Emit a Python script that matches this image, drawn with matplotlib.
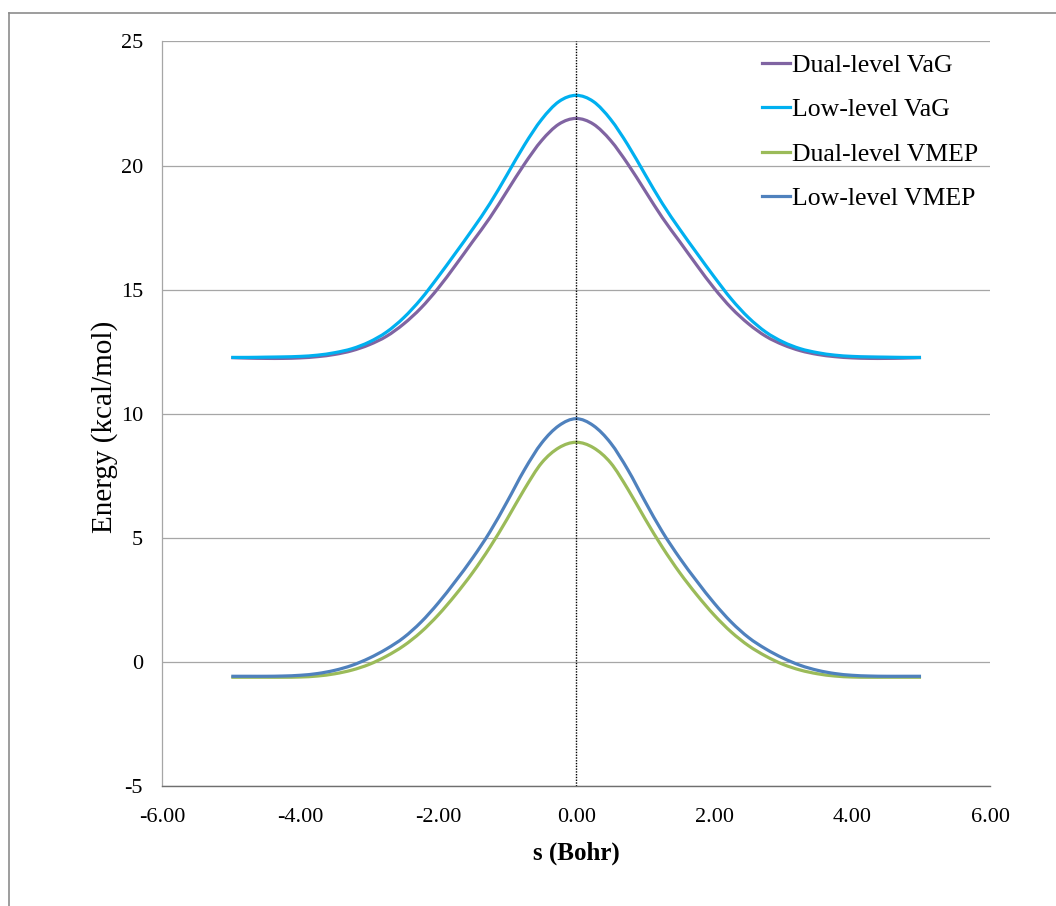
import matplotlib
matplotlib.use('Agg')
import matplotlib.pyplot as plt
import numpy as np
from matplotlib.lines import Line2D
from matplotlib.path import Path
from matplotlib.patches import PathPatch
from matplotlib.ticker import FormatStrFormatter, MultipleLocator

# reaction coordinate (Bohr)
s = [-5.0, -4.75, -4.5, -4.25, -4.0, -3.75, -3.5, -3.25, -3.0, -2.75, -2.5,
     -2.25, -2.0, -1.75, -1.5, -1.25, -1.0, -0.75, -0.5, -0.25, 0.0,
     0.25, 0.5, 0.75, 1.0, 1.25, 1.5, 1.75, 2.0, 2.25, 2.5,
     2.75, 3.0, 3.25, 3.5, 3.75, 4.0, 4.25, 4.5, 4.75, 5.0]

# energies (kcal/mol)
dual_vag = [12.26, 12.24, 12.23, 12.23, 12.25, 12.30, 12.39, 12.54, 12.78, 13.12, 13.62,
            14.26, 15.06, 15.98, 16.94, 17.90, 18.98, 20.06, 21.01, 21.67, 21.90,
            21.67, 21.01, 20.06, 18.98, 17.90, 16.94, 15.98, 15.06, 14.26, 13.62,
            13.12, 12.78, 12.54, 12.39, 12.30, 12.25, 12.23, 12.23, 12.24, 12.26]
low_vag = [12.27, 12.27, 12.28, 12.29, 12.31, 12.36, 12.46, 12.62, 12.89, 13.29, 13.87,
           14.62, 15.52, 16.47, 17.44, 18.47, 19.64, 20.83, 21.86, 22.58, 22.83,
           22.58, 21.86, 20.83, 19.64, 18.47, 17.44, 16.47, 15.52, 14.62, 13.87,
           13.29, 12.89, 12.62, 12.46, 12.36, 12.31, 12.29, 12.28, 12.27, 12.27]
dual_vmep = [-0.62, -0.62, -0.62, -0.62, -0.61, -0.57, -0.48, -0.33, -0.10, 0.23, 0.65,
             1.20, 1.89, 2.70, 3.60, 4.62, 5.76, 6.96, 8.02, 8.63, 8.85,
             8.63, 8.02, 6.96, 5.76, 4.62, 3.60, 2.70, 1.89, 1.20, 0.65,
             0.23, -0.10, -0.33, -0.48, -0.57, -0.61, -0.62, -0.62, -0.62, -0.62]
low_vmep = [-0.58, -0.58, -0.58, -0.57, -0.54, -0.47, -0.34, -0.14, 0.15, 0.52, 0.98,
            1.60, 2.37, 3.25, 4.19, 5.24, 6.46, 7.74, 8.82, 9.52, 9.80,
            9.52, 8.82, 7.74, 6.46, 5.24, 4.19, 3.25, 2.37, 1.60, 0.98,
            0.52, 0.15, -0.14, -0.34, -0.47, -0.54, -0.57, -0.58, -0.58, -0.58]

ts_s = 0.0
labels = ['Dual-level VaG', 'Low-level VaG', 'Dual-level VMEP', 'Low-level VMEP']
colors = ['#8064A2', '#00B0F0', '#9BBB59', '#4F81BD']


def smooth_path(x, y):
    # Excel-style smoothed line: cubic Bezier segments through the data points
    pts = np.column_stack([x, y])
    n = len(pts)
    verts = [pts[0]]
    codes = [Path.MOVETO]
    for i in range(n - 1):
        p0 = pts[max(i - 1, 0)]
        p1 = pts[i]
        p2 = pts[i + 1]
        p3 = pts[min(i + 2, n - 1)]
        verts += [p1 + (p2 - p0) / 6, p2 - (p3 - p1) / 6, p2]
        codes += [Path.CURVE4] * 3
    return Path(verts, codes)


plt.rcParams['font.family'] = ['Liberation Serif', 'DejaVu Serif']
plt.rcParams['axes.unicode_minus'] = False

fig = plt.figure(figsize=(10.56, 9.06), dpi=100)
ax = fig.add_axes([0.1537, 0.1325, 0.7838, 0.8217])

handles = []
for y, lab, c in zip([dual_vag, low_vag, dual_vmep, low_vmep], labels, colors):
    ax.add_patch(PathPatch(smooth_path(s, y), fill=False, edgecolor=c, lw=2.3,
                           capstyle='butt', joinstyle='round'))
    handles.append(Line2D([], [], color=c, lw=2.3, label=lab))

ax.axvline(ts_s, color='black', linestyle=(0, (1, 1)), lw=1.0)

ax.set_xlim(-6, 6)
ax.set_ylim(-5, 25)
ax.xaxis.set_major_locator(MultipleLocator(2))
ax.yaxis.set_major_locator(MultipleLocator(5))
ax.xaxis.set_major_formatter(FormatStrFormatter('%.2f'))
ax.yaxis.set_major_formatter(FormatStrFormatter('%d'))

ax.yaxis.grid(True, color='#a6a6a6', lw=0.9)
ax.set_axisbelow(True)
ax.spines['top'].set_visible(False)
ax.spines['right'].set_visible(False)
ax.spines['left'].set_color('#a6a6a6')
ax.spines['bottom'].set_color('#6f6f6f')
ax.spines['left'].set_linewidth(0.9)
ax.spines['bottom'].set_linewidth(1.0)
ax.tick_params(axis='both', length=0, labelsize=16, colors='black')
ax.tick_params(axis='x', pad=16)
ax.tick_params(axis='y', pad=14)

ax.set_xlabel('s (Bohr)', fontsize=18, fontweight='bold')
ax.xaxis.set_label_coords(0.5, -0.075)
ax.set_ylabel('Energy (kcal/mol)', fontsize=21)
ax.yaxis.set_label_coords(-0.053, 0.483)

ax.legend(handles=handles, loc='upper left', bbox_to_anchor=(0.724, 0.983),
          frameon=False, fontsize=18.5, handlelength=1.12, handletextpad=0.05,
          labelspacing=0.83, borderaxespad=0, borderpad=0)

# outer chart border (only top and left visible)
fig.add_artist(Line2D([9 / 1056, 9 / 1056], [0, 1 - 13 / 906], transform=fig.transFigure,
                      color='#8c8c8c', lw=1.2))
fig.add_artist(Line2D([9 / 1056, 1], [1 - 13 / 906, 1 - 13 / 906], transform=fig.transFigure,
                      color='#8c8c8c', lw=1.2))

fig.savefig('out.png', dpi=100)
